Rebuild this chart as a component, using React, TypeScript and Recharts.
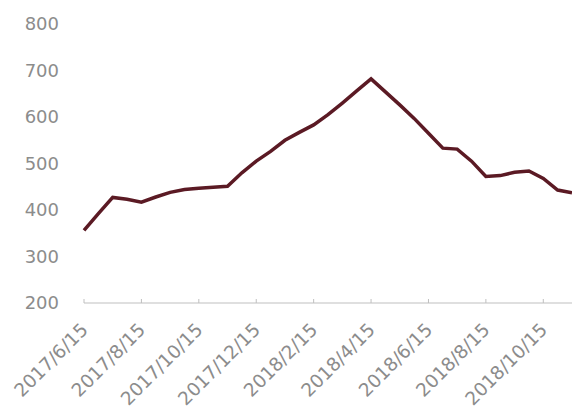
import React from 'react';
import { LineChart, Line, XAxis, YAxis } from 'recharts';

const dates = [
  '2017/6/15', '2017/6/30', '2017/7/15', '2017/7/31', '2017/8/15', '2017/8/31',
  '2017/9/15', '2017/9/30', '2017/10/15', '2017/10/31', '2017/11/15', '2017/11/30',
  '2017/12/15', '2017/12/31', '2018/1/15', '2018/1/31', '2018/2/15', '2018/2/28',
  '2018/3/15', '2018/3/31', '2018/4/15', '2018/4/30', '2018/5/15', '2018/5/31',
  '2018/6/15', '2018/6/30', '2018/7/15', '2018/7/31', '2018/8/15', '2018/8/31',
  '2018/9/15', '2018/9/30', '2018/10/15', '2018/10/31', '2018/11/15',
];

const prices = [
  356, 392, 427, 423, 417, 428, 438, 444, 447, 449, 451, 480,
  505, 526, 550, 567, 583, 605, 630, 656, 682, 654, 626, 597,
  565, 533, 531, 505, 472, 474, 481, 484, 468, 443, 437,
];

const tickLabels = [
  '2017/6/15', '2017/8/15', '2017/10/15', '2017/12/15', '2018/2/15',
  '2018/4/15', '2018/6/15', '2018/8/15', '2018/10/15',
];

const yTicks = [200, 300, 400, 500, 600, 700, 800];

const data = dates.map((d, i) => ({ date: d, price: prices[i] }));

const fontFamily = 'DejaVu Sans, sans-serif';

const DateTick = (props: any) => {
  const { x, y, payload } = props;
  return (
    <g>
      <line x1={x} y1={y - 4} x2={x} y2={y} stroke="#bfbfbf" />
      <text
        x={0}
        y={0}
        transform={`translate(${x + 5},${y + 28}) rotate(-45)`}
        textAnchor="end"
        fill="#8c8c8c"
        fontSize={18.5}
        fontFamily={fontFamily}
      >
        {payload.value}
      </text>
    </g>
  );
};

export default function App() {
  return (
    <div style={{ position: 'absolute', left: 0, top: 0, background: '#fff' }}>
      <LineChart width={572} height={414} data={data} margin={{ top: 24, right: 0, bottom: 81, left: 0 }}>
        <XAxis
          dataKey="date"
          ticks={tickLabels}
          interval={0}
          tick={<DateTick />}
          tickLine={false}
          tickSize={0}
          tickMargin={0}
          stroke="#bfbfbf"
        />
        <YAxis
          domain={[200, 800]}
          ticks={yTicks}
          width={84}
          axisLine={false}
          tickLine={false}
          tickMargin={19}
          tick={{ fill: '#8c8c8c', fontSize: 18, fontFamily }}
        />
        <Line
          type="linear"
          dataKey="price"
          stroke="#5b1a24"
          strokeWidth={3.5}
          dot={false}
          isAnimationActive={false}
        />
      </LineChart>
    </div>
  );
}
